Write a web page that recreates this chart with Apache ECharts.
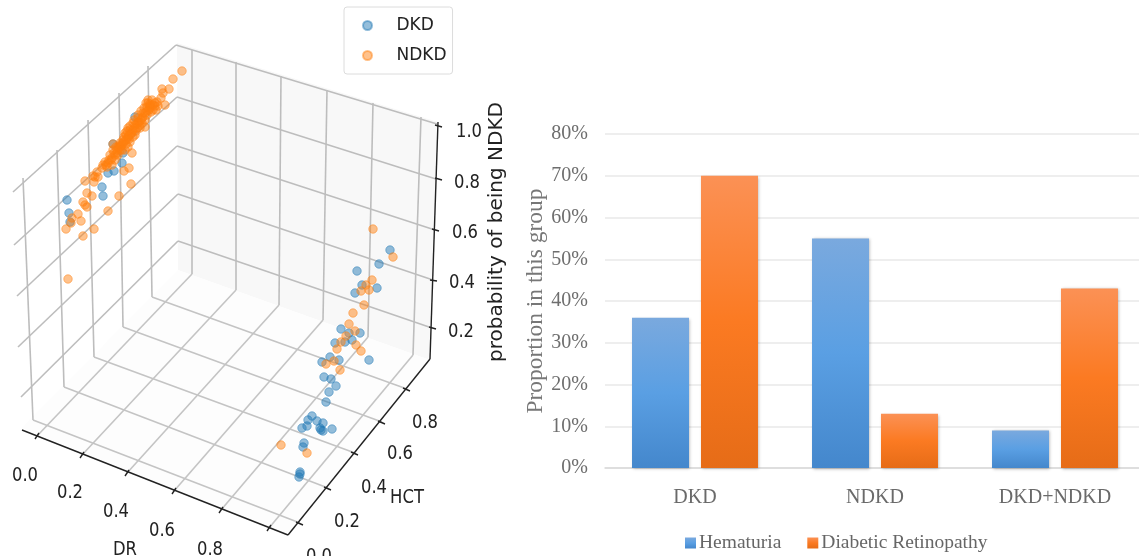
<!DOCTYPE html>
<html><head><meta charset="utf-8">
<style>html,body{margin:0;padding:0;background:#fff}#c{width:1139px;height:556px;overflow:hidden;filter:blur(.45px)}</style>
<script src="https://cdn.jsdelivr.net/npm/echarts@6/dist/echarts.min.js"></script>
</head><body><div id="c"></div>
<script>
// Left panel: readings in the picture plane of the 3D projection [across, down]
const dkdPoints = [[135,117],[113,144],[123,153],[122,163],[114,171],[108,173],[102,187],[103,196],[67,200],[69,213],[70,222],
[390,250],[379,264],[357,271],[362,285],[377,288],[355,293],[341,329],[360,333],[349,333],[352,340],[345,342],[335,343],[330,357],[339,360],[322,362],[369,360],
[324,377],[331,379],[336,386],[329,392],[326,402],[312,416],[308,420],[317,421],[307,426],[302,428],[323,423],[320,428],[321,430],[323,431],[332,429],[304,443],[303,447],[300,472],[300,474],[299,477]];
const ndkdPoints = [[182,71],[173,79],[169,89],[162,89],[163,93],[161,98],[165,105],[148,103],[152,100],[155,106],[150,108],[157,102],[153,110],[147,107],
[143,113],[142,118],[138,122],[147,115],[140,125],[133,123],[128,128],[132,132],[137,128],[125,133],[145,127],[135,135],[128,137],[123,140],[122,145],[130,142],[118,147],[128,147],[125,150],[132,153],[113,144],[117,153],[110,155],[120,150],[115,160],[108,163],[112,165],[103,165],[102,168],[107,167],[97,172],[98,177],[95,177],[93,176],[85,181],[94,182],[129,168],[124,171],[131,184],[119,196],[87,193],[92,196],[83,202],[85,205],[87,207],[108,211],[78,214],[72,218],[81,221],[71,223],[66,229],[94,229],[83,236],[68,279],
[150,104],[153,105],[149,110],[138,118],[135,125],[130,130],[126,135],[120,145],[115,155],[111,160],[105,162],
[106,165],[109,160],[112,158],[114,153],[117,150],[119,148],[121,146],[123,143],[125,141],[127,139],[124,137],[129,135],[131,134],[127,131],[133,130],[135,128],[130,126],[137,124],[139,122],[134,120],[141,120],[143,117],[138,115],[145,113],[141,111],[147,111],[144,108],[150,106],[148,100],[155,103],[158,106],[146,103],[151,112],[156,110],[120,143],[116,147],[113,150],[118,155],[122,150],[126,144],[129,139],[133,137],[136,131],[140,128],[142,123],[145,120],
[373,229],[393,257],[372,280],[366,285],[361,291],[369,290],[364,305],[353,313],[349,324],[346,336],[355,331],[341,342],[337,349],[356,345],[361,351],[326,364],[334,361],[340,370],[281,445],[307,453]];

const wallPanes = [[[177,43],[438,122],[430,360],[178,270]]];
const floorPanes = [[[22,428],[178,270],[430,360],[288,535]]];
const wallGridLines = [
 [13,192,176,45],[14,245,177,97],[17,296,177,146],[18,347,178,194],[21,397,178,241],
 [176,45,437,124],[177,97,436,179],[177,146,435,230],[178,194,433,280],[178,241,432,328],
 [23,178,33,420],[57,150,64,387],[88,120,94,357],[119,93,123,327],[148,66,152,297],
 [192,50,192,274],[236,62,236,290],[281,76,279,305],[327,90,323,320],[373,103,368,337],[421,117,413,355]];
const floorGridLines = [
 [37,436,192,274],[82,455,236,290],[127,473,279,305],[174,491,323,320],[221,510,368,337],[269,528,413,355],
 [33,420,300,523],[64,387,328,488],[94,357,355,453],[123,327,382,422],[152,297,407,389]];
const axisEdges = [[438,122,430,359],[22,430,288,535],[288,535,430,359],
 [435,125,442,127],[435,178,442,180],[432,229,439,231],[430,280,437,281],[429,327,436,329],
 [35,439,39,433],[80,458,84,452],[125,476,129,470],[172,494,176,488],[219,513,223,507],[267,531,271,525],
 [296,522,303,525],[324,487,331,490],[351,452,358,455],[378,421,385,424],[403,388,410,391]];
const axisTexts = [
 ['1.0',469,132],['0.8',467,183],['0.6',465,233],['0.4',462,283],['0.2',461,332],
 ['0.0',25,476],['0.2',70,493],['0.4',116,512],['0.6',162,531],['0.8',210,550],['DR',125,550],
 ['0.8',425,423],['0.6',400,454],['0.4',374,488],['0.2',347,522],['0.0',319,557],['HCT',407,498]];
const zTitle = 'probability of being NDKD';

// Right panel
const categories = ['DKD','NDKD','DKD+NDKD'];
const hematuria = [36,55,9];
const retinopathy = [70,13,43];

const grad = (a,b,c)=>({type:'linear',x:0,y:0,x2:0,y2:1,colorStops:[{offset:0,color:a},{offset:.5,color:b},{offset:1,color:c}]});
const coord0 = {xAxisIndex:0,yAxisIndex:0};
function segSeries(name,segs,color,width,z){
  return {type:'custom',name,...coord0,z,silent:true,clip:false,data:segs,
    renderItem:(p,api)=>{
      const a=api.coord([api.value(0),api.value(1)]),b=api.coord([api.value(2),api.value(3)]);
      return {type:'line',shape:{x1:a[0],y1:a[1],x2:b[0],y2:b[1]},style:{stroke:color,lineWidth:width}};
    },encode:{x:[0,2],y:[1,3]}};
}
function paneSeries(name,polys,color){
  return {type:'custom',name,...coord0,z:1,silent:true,clip:false,data:polys.map((p,i)=>[i]),
    renderItem:(p,api)=>({type:'polygon',shape:{points:polys[api.value(0)].map(q=>api.coord(q))},style:{fill:color}})};
}
const dot = c=>({type:'scatter',...coord0,symbolSize:8.5,z:5,
  itemStyle:{color:c,borderColor:c,borderWidth:1}});

const chart = echarts.init(document.getElementById('c'),null,{renderer:'canvas'});
chart.setOption({
  animation:false,backgroundColor:'#fff',
  grid:[{left:0,top:0,width:1139,height:556,outerBoundsMode:'none'},{left:605,top:134,width:540,height:334,outerBoundsMode:'none'}],
  xAxis:[{type:'value',min:0,max:1139,show:false},
    {type:'category',gridIndex:1,data:categories,axisTick:{show:false},
     axisLine:{lineStyle:{color:'#d9d9d9',width:1.5}},
     axisLabel:{margin:20,fontFamily:'Liberation Serif',fontSize:20,color:'#6a6a6a'}}],
  yAxis:[{type:'value',min:0,max:556,inverse:true,show:false},
    {type:'value',gridIndex:1,min:0,max:80,interval:10,
     axisLabel:{formatter:'{value}%',margin:17,padding:[3,0,0,0],fontFamily:'Liberation Serif',fontSize:20,color:'#6e6e6e'},
     splitLine:{lineStyle:{color:'#e8e8e8',width:1.5}},
     name:'Proportion in this group',nameLocation:'middle',nameGap:55,
     nameTextStyle:{fontFamily:'Liberation Serif',fontSize:23.5,color:'#777'}}],
  legend:[
   {data:['DKD','NDKD'],orient:'vertical',left:344,top:7,padding:[10,6,10,18],itemGap:13,
    itemWidth:30,itemHeight:9,icon:'circle',backgroundColor:'#fff',borderColor:'#dcdcdc',borderWidth:1,borderRadius:3,
    textStyle:{fontFamily:'DejaVu Sans',fontSize:17,color:'#222',padding:[0,0,0,9]}},
   {data:['Hematuria','Diabetic Retinopathy'],left:685,top:533,itemWidth:11,itemHeight:11,itemGap:26,padding:0,icon:'rect',
    textStyle:{fontFamily:'Liberation Serif',fontSize:19.5,color:'#666',padding:[0,0,0,-2]}}
  ],
  graphic:[
   ...axisTexts.map(t=>({type:'text',x:t[1],y:t[2],scaleX:.82,z:20,
     style:{text:t[0],fontFamily:'DejaVu Sans',fontSize:20,fill:'#222',textAlign:'center',textVerticalAlign:'middle'}})),
   {type:'text',x:497,y:232,rotation:Math.PI/2,z:20,
     style:{text:zTitle,fontFamily:'DejaVu Sans',fontSize:20,fill:'#222',textAlign:'center',textVerticalAlign:'middle'}}
  ],
  series:[
   paneSeries('wallPane',wallPanes,'#f8f8f8'),
   paneSeries('floorPane',floorPanes,'#fdfdfd'),
   segSeries('wallGrid',wallGridLines,'#bdbdbd',1.6,2),
   segSeries('floorGrid',floorGridLines,'#c4c4c4',1.6,2),
   segSeries('axes',axisEdges,'#222',1.4,3),
   {...dot('rgba(31,119,180,.6)'),name:'DKD',data:dkdPoints},
   {...dot('rgba(255,127,14,.6)'),name:'NDKD',data:ndkdPoints,z:6},
   {type:'bar',name:'Hematuria',xAxisIndex:1,yAxisIndex:1,data:hematuria,barWidth:57,barGap:'21%',
    itemStyle:{color:grad('#7aa9de','#5a9fe3','#4487cc'),shadowBlur:3,shadowColor:'rgba(0,0,0,.3)',shadowOffsetX:1,shadowOffsetY:1}},
   {type:'bar',name:'Diabetic Retinopathy',xAxisIndex:1,yAxisIndex:1,data:retinopathy,barWidth:57,
    itemStyle:{color:grad('#fb9155','#fb7a22','#e66c17'),shadowBlur:3,shadowColor:'rgba(0,0,0,.3)',shadowOffsetX:1,shadowOffsetY:1}}
  ]
});
</script></body></html>
